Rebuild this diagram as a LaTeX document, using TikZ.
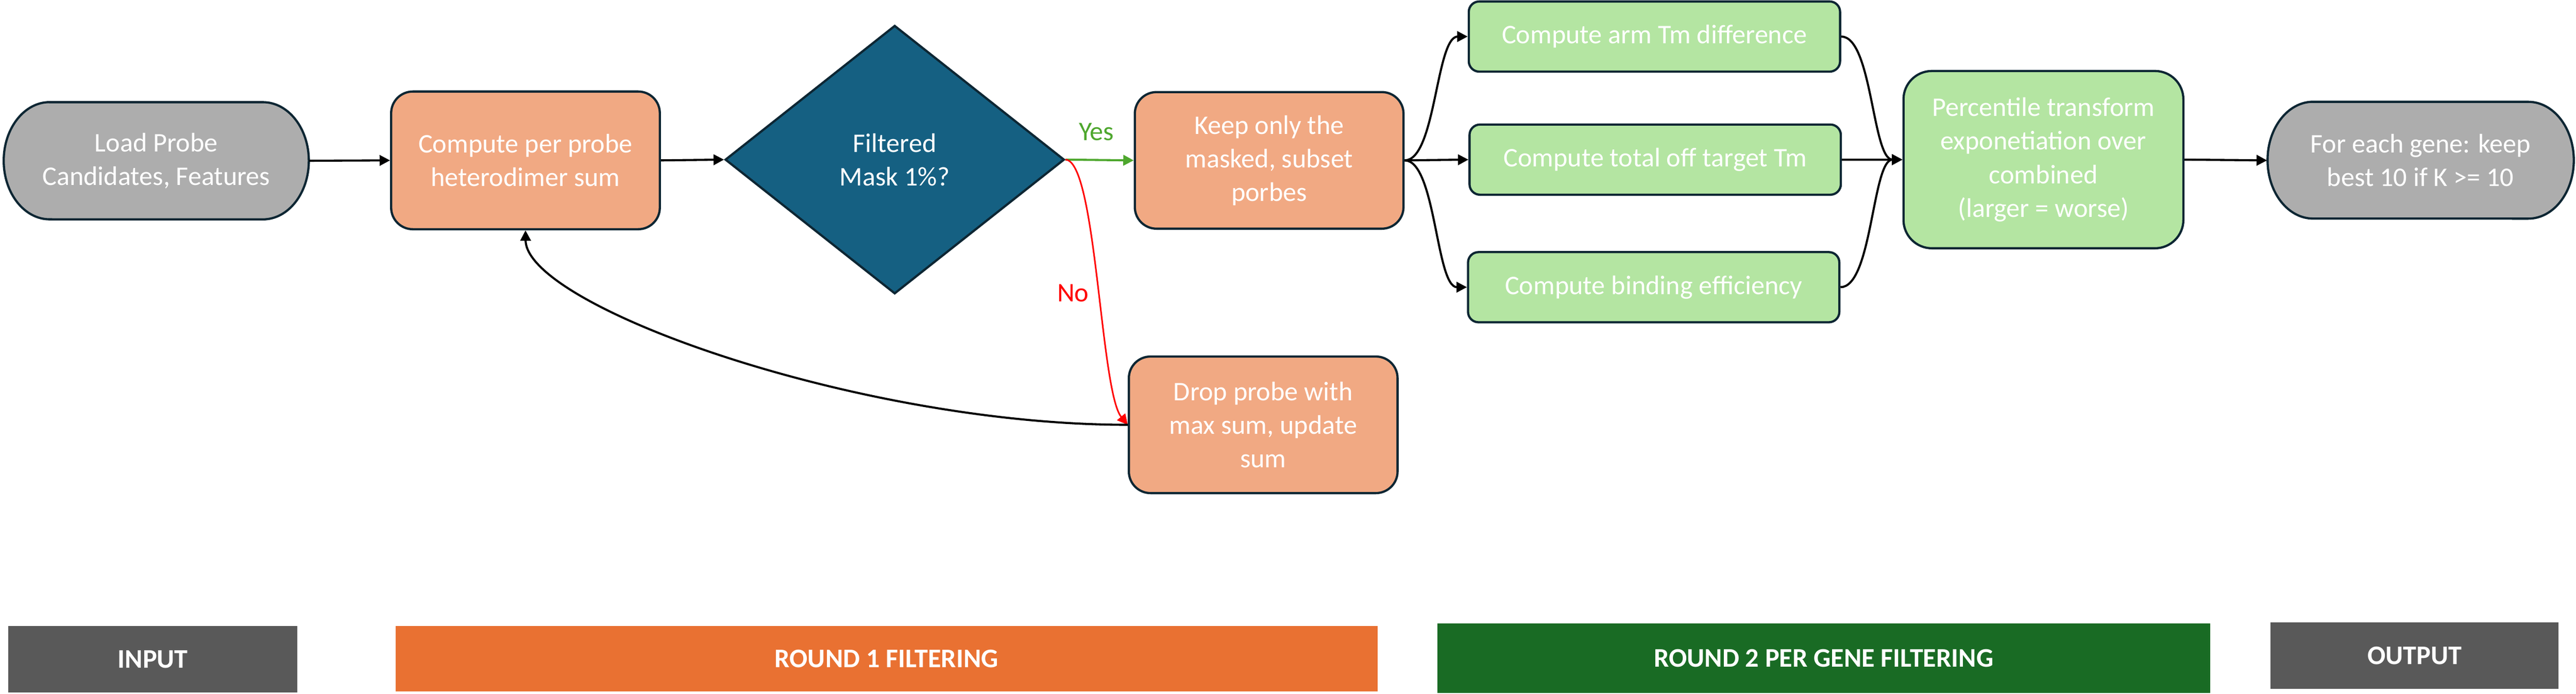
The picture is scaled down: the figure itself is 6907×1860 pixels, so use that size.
\documentclass[tikz,border=0pt]{standalone}
\usepackage{fontspec}
\setmainfont{Carlito}
\usetikzlibrary{arrows.meta,shapes.geometric}
\definecolor{bd}{HTML}{0D2633}
\definecolor{termfill}{HTML}{ADADAD}
\definecolor{orfill}{HTML}{F1A983}
\definecolor{grfill}{HTML}{B4E5A2}
\definecolor{diafill}{HTML}{156082}
\definecolor{yesgreen}{HTML}{4EA72E}
\definecolor{nored}{HTML}{FF0000}
\definecolor{bargray}{HTML}{595959}
\definecolor{barorange}{HTML}{E97132}
\definecolor{bargreen}{HTML}{196B24}
\begin{document}
\begin{tikzpicture}[x=0.01cm,y=-0.01cm,
  txt/.style={text=white, align=center, font=\fontsize{20.5}{25.6}\selectfont, inner sep=0pt},
  outline/.style={draw=bd, line width=1.7pt},
  term/.style={txt, minimum width=8.18cm, minimum height=3.14cm},
  orangebox/.style={txt, outline, fill=orfill, rounded corners=0.58cm, minimum width=7.2cm, minimum height=3.66cm},
  greenbox/.style={txt, outline, fill=grfill, rounded corners=0.28cm, minimum width=9.95cm, minimum height=1.88cm},
  bigbox/.style={txt, outline, fill=grfill, rounded corners=0.76cm, minimum width=7.5cm, minimum height=4.75cm},
  conn/.style={line width=1.6pt, -{Triangle[length=0.28cm,width=0.28cm]}},
  bar/.style={text=white, font=\fontsize{20.5}{25}\selectfont\bfseries, inner sep=0pt}
]
\useasboundingbox (0,0) rectangle (6907,1860);

% terminal shapes (elliptical-cornered)
\draw[outline, fill=termfill] (133,274) -- (705,274)
  arc[start angle=90,end angle=0,x radius=1.23cm,y radius=1.57cm]
  arc[start angle=0,end angle=-90,x radius=1.23cm,y radius=1.57cm]
  -- (133,588)
  arc[start angle=-90,end angle=-180,x radius=1.23cm,y radius=1.57cm]
  arc[start angle=180,end angle=90,x radius=1.23cm,y radius=1.57cm] -- cycle;
\node[term] (load) at (419,431) {Load Probe\\Candidates, Features};

\draw[outline, fill=termfill] (6202,273) -- (6779,273)
  arc[start angle=90,end angle=0,x radius=1.22cm,y radius=1.565cm]
  arc[start angle=0,end angle=-90,x radius=1.22cm,y radius=1.565cm]
  -- (6202,586)
  arc[start angle=-90,end angle=-180,x radius=1.22cm,y radius=1.565cm]
  arc[start angle=180,end angle=90,x radius=1.22cm,y radius=1.565cm] -- cycle;
\node[term, minimum width=8.21cm, minimum height=3.13cm] (out) at (6490,430) {For each gene: keep\\best 10 if K >= 10};

% process nodes
\node[orangebox, minimum height=3.69cm] (comp) at (1409,430) {Compute per probe\\heterodimer sum};
\node[diamond, outline, fill=diafill, txt, minimum width=9.09cm, minimum height=7.19cm] (dec) at (2399,428) {Filtered\\Mask 1\%?};
\node[orangebox] (keep) at (3403,430) {Keep only the\\masked, subset\\porbes};
\node[orangebox] (drop) at (3387,1139) {Drop probe with\\max sum, update\\sum};

\node[greenbox] (g1) at (4436,98) {Compute arm Tm difference};
\node[greenbox] (g2) at (4438,428) {Compute total off target Tm};
\node[greenbox] (g3) at (4434,770) {Compute binding efficiency};

\node[bigbox] (pct) at (5479,428) {Percentile transform\\exponetiation over\\combined\\(larger = worse)};

% connectors
\draw[conn] (load.east) -- (comp.west);
\draw[conn] (comp.east) -- (dec.west);
\draw[conn, yesgreen] (dec.east) -- (keep.west);
\node[txt, text=yesgreen] (yes) at (2940,353) {Yes};
\draw[conn, nored, line width=1.2pt] (dec.east) .. controls (2940,430) and (2950,1050) .. (drop.west);
\node[txt, text=nored] (no) at (2877,786) {No};
\draw[conn] (drop.west) .. controls (2300,1139) and (1411,820) .. (comp.south);

\draw[conn] (keep.east) .. controls (3850,430) and (3850,98) .. (g1.west);
\draw[conn] (keep.east) -- (g2.west);
\draw[conn] (keep.east) .. controls (3850,430) and (3850,770) .. (g3.west);

\draw[conn] (g1.east) .. controls (5020,98) and (5020,428) .. (pct.west);
\draw[conn] (g2.east) -- (pct.west);
\draw[conn] (g3.east) .. controls (5020,770) and (5020,428) .. (pct.west);

\draw[conn] (pct.east) -- (out.west);

% bottom phase bars
\node[bar, fill=bargray, minimum width=7.74cm, minimum height=1.78cm] (binput) at (410,1768) {INPUT};
\node[bar, fill=barorange, minimum width=26.32cm, minimum height=1.75cm] (bround1) at (2377,1766) {ROUND 1 FILTERING};
\node[bar, fill=bargreen, minimum width=20.71cm, minimum height=1.86cm] (bround2) at (4890,1765) {ROUND 2 PER GENE FILTERING};
\node[bar, fill=bargray, minimum width=7.71cm, minimum height=1.78cm] (boutput) at (6474,1758) {OUTPUT};
\end{tikzpicture}
\end{document}
